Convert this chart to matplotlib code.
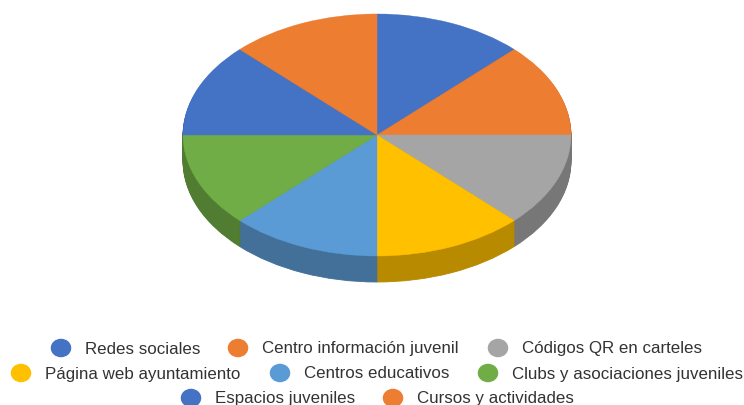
import matplotlib
matplotlib.use("Agg")
import matplotlib.pyplot as plt
from matplotlib.colors import to_rgb
from matplotlib.patches import Ellipse

plt.rcParams['font.family'] = ['Liberation Sans', 'DejaVu Sans']

labels = ['Redes sociales', 'Centro información juvenil', 'Códigos QR en carteles',
          'Página web ayuntamiento', 'Centros educativos', 'Clubs y asociaciones juveniles',
          'Espacios juveniles', 'Cursos y actividades']
values = [12.5, 12.5, 12.5, 12.5, 12.5, 12.5, 12.5, 12.5]
colors = ['#4472C4', '#ED7D31', '#A5A5A5', '#FFC000', '#5B9BD5', '#70AD47', '#4472C4', '#ED7D31']

W, H = 744, 405
fig = plt.figure(figsize=(W / 100, H / 100), dpi=100)

# pie centre and radii in pixels, squashed to look tilted
cx, cy, rx, ry, depth = 377, 135, 194, 121, 26
ax = fig.add_axes([0, 0, 1, 1])

dark = [tuple(c * 0.72 for c in to_rgb(col)) for col in colors]
for d in range(depth, 0, -1):
    wedges, _ = ax.pie(values, colors=dark, startangle=90, counterclock=False, center=(0, -d / ry))
    for w in wedges:
        w.set_edgecolor(w.get_facecolor())
        w.set_linewidth(0.6)
wedges, _ = ax.pie(values, colors=colors, startangle=90, counterclock=False)
for w in wedges:
    w.set_edgecolor(w.get_facecolor())
    w.set_linewidth(0.3)
ax.set_aspect('auto')
ax.set_xlim(-cx / rx, (W - cx) / rx)
ax.set_ylim((cy - H) / ry, cy / ry)

# legend drawn by hand, Excel style rows
leg = fig.add_axes([0, 0, 1, 1])
leg.set_xlim(0, W)
leg.set_ylim(H, 0)
leg.axis('off')
marker_x = [61, 238, 498, 21, 280, 488, 191, 393]
row_y = [348, 348, 348, 373, 373, 373, 398, 398]
for label, col, mx, my in zip(labels, colors, marker_x, row_y):
    leg.add_patch(Ellipse((mx, my), 20.5, 18.5, color=col, lw=0))
    leg.text(mx + 24, my + 5.5, label, fontsize=12.2, color='#333333', va='baseline', ha='left')

fig.savefig('out.png', dpi=100)
